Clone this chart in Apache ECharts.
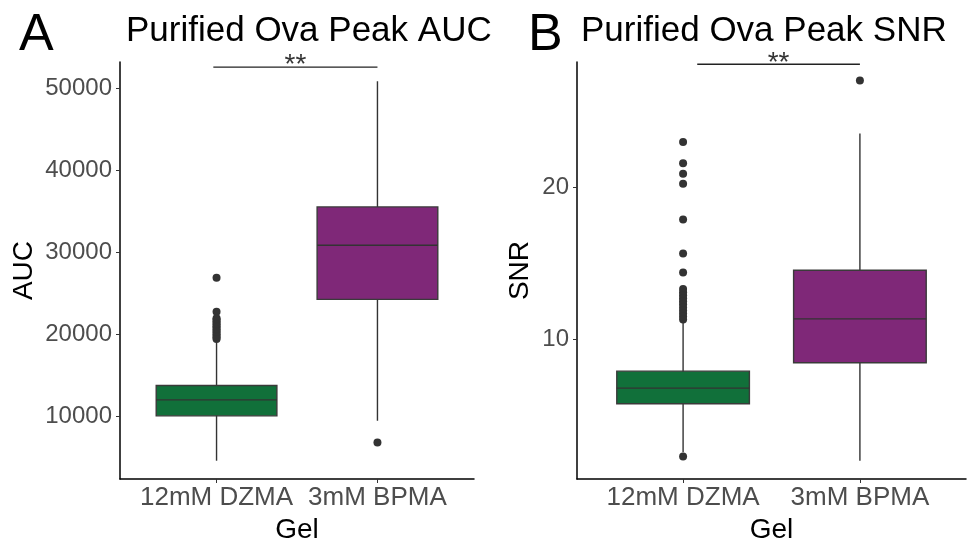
<!DOCTYPE html>
<html>
<head>
<meta charset="utf-8">
<script src="https://cdn.jsdelivr.net/npm/echarts@6/dist/echarts.min.js"></script>
<style>
html, body { margin: 0; padding: 0; background: #fff; }
#chart { width: 967px; height: 539px; }
</style>
</head>
<body>
<div id="chart"></div>
<script>
const groups = ["12mM DZMA", "3mM BPMA"];
const boxColors = ["#11703a", "#7f2878"];

// [lower whisker, Q1, median, Q3, upper whisker]
const aucBoxes = [
	[4620, 10080, 12030, 13770, 19300],
	[9480, 24260, 30860, 35520, 50830],
];
const aucOutliersDZMA = [26900, 22770, 21950, 21800, 21600, 21400, 21200, 21000, 20800, 20600, 20400, 20200, 20000, 19800, 19600, 19450];
const aucOutliersBPMA = [6840];
const aucTicks = [10000, 20000, 30000, 40000, 50000];
const aucSig = [0.98, 2.0, 52530];

const snrBoxes = [
	[2.6, 5.78, 6.81, 7.92, 11.1],
	[2.04, 8.47, 11.35, 14.54, 23.5],
];
const snrOutliersDZMA = [22.95, 21.55, 20.87, 20.2, 17.86, 15.64, 14.39, 13.3, 13.1, 12.9, 12.7, 12.5, 12.3, 12.1, 11.9, 11.7, 11.5, 11.3, 2.33];
const snrOutliersBPMA = [26.97];
const snrTicks = [10, 20];
const snrSig = [1.08, 2.0, 28.04];

const FONT = "Liberation Sans, Arial, sans-serif";
const boxWidth = 0.75;

function renderBox(params, api) {
	const x = api.value(0);
	const lo = api.coord([x, api.value(1)]);
	const q1 = api.coord([x, api.value(2)]);
	const med = api.coord([x, api.value(3)]);
	const q3 = api.coord([x, api.value(4)]);
	const hi = api.coord([x, api.value(5)]);
	const w = api.size([boxWidth, 0])[0];
	const stroke = { stroke: "#333333", lineWidth: 1.4 };
	return {
		type: "group",
		children: [
			{ type: "line", shape: { x1: lo[0], y1: lo[1], x2: hi[0], y2: hi[1] }, style: stroke },
			{
				type: "rect",
				shape: { x: q3[0] - w / 2, y: q3[1], width: w, height: q1[1] - q3[1] },
				style: { fill: boxColors[params.dataIndex], stroke: "#3a3a3a", lineWidth: 1.4 },
			},
			{ type: "line", shape: { x1: med[0] - w / 2, y1: med[1], x2: med[0] + w / 2, y2: med[1] }, style: stroke },
		],
	};
}

function xAxis(gridIndex) {
	return {
		type: "value",
		gridIndex: gridIndex,
		min: 0.4,
		max: 2.6,
		name: "Gel",
		nameLocation: "middle",
		nameGap: 31,
		nameTextStyle: { fontFamily: FONT, fontSize: 28, color: "#000" },
		axisLine: { lineStyle: { color: "#000", width: 1.5 } },
		axisTick: { customValues: [1, 2], length: 4, lineStyle: { color: "#333" } },
		axisLabel: {
			customValues: [1, 2],
			formatter: (v) => groups[Math.round(v) - 1],
			fontFamily: FONT,
			fontSize: 26,
			color: "#4d4d4d",
			margin: 6,
		},
		splitLine: { show: false },
	};
}

function yAxis(gridIndex, name, min, max, ticks, gap) {
	return {
		type: "value",
		gridIndex: gridIndex,
		min: min,
		max: max,
		name: name,
		nameLocation: "middle",
		nameGap: gap,
		nameTextStyle: { fontFamily: FONT, fontSize: 28, color: "#000" },
		axisLine: { show: true, lineStyle: { color: "#000", width: 1.5 } },
		axisTick: { show: true, customValues: ticks, length: 4, lineStyle: { color: "#333" } },
		axisLabel: {
			customValues: ticks,
			formatter: (v) => String(v),
			fontFamily: FONT,
			fontSize: 24,
			color: "#4d4d4d",
			margin: 8,
		},
		splitLine: { show: false },
	};
}

function panelSeries(idx, boxes, outA, outB, sig) {
	const outliers = outA.map((v) => [1, v]).concat(outB.map((v) => [2, v]));
	return [
		{
			type: "custom",
			xAxisIndex: idx,
			yAxisIndex: idx,
			renderItem: renderBox,
			encode: { x: 0, y: [1, 2, 3, 4, 5] },
			data: boxes.map((b, i) => [i + 1].concat(b)),
			z: 2,
		},
		{
			type: "scatter",
			xAxisIndex: idx,
			yAxisIndex: idx,
			symbolSize: 8,
			itemStyle: { color: "#333333", opacity: 1 },
			data: outliers,
			z: 3,
		},
		{
			type: "line",
			xAxisIndex: idx,
			yAxisIndex: idx,
			symbol: "none",
			lineStyle: { color: "#222222", width: 1.4 },
			data: [[sig[0], sig[2]], [sig[1], sig[2]]],
			silent: true,
		},
		{
			type: "scatter",
			xAxisIndex: idx,
			yAxisIndex: idx,
			symbol: "circle",
			symbolSize: 1,
			itemStyle: { color: "rgba(0,0,0,0)" },
			label: {
				show: true,
				formatter: "**",
				position: "top",
				distance: -13,
				fontFamily: FONT,
				fontSize: 28,
				color: "#000",
			},
			data: [[(sig[0] + sig[1]) / 2, sig[2]]],
			silent: true,
			z: 4,
		},
	];
}

const chart = echarts.init(document.getElementById("chart"));

const option = {
	animation: false,
	backgroundColor: "#fff",
	title: [
		{ text: "A", left: 14, top: 5, textStyle: { fontFamily: FONT, fontSize: 52, fontWeight: "normal", color: "#000" } },
		{ text: "Purified Ova Peak AUC", left: 121, top: 9, textStyle: { fontFamily: FONT, fontSize: 35, fontWeight: "normal", color: "#000" } },
		{ text: "B", left: 523, top: 5, textStyle: { fontFamily: FONT, fontSize: 52, fontWeight: "normal", color: "#000" } },
		{ text: "Purified Ova Peak SNR", left: 576, top: 9, textStyle: { fontFamily: FONT, fontSize: 35, fontWeight: "normal", color: "#000" } },
	],
	grid: [
		{ left: 120, right: 493, top: 62, bottom: 60, outerBoundsMode: "none" },
		{ left: 577, right: 1, top: 62, bottom: 60, outerBoundsMode: "none" },
	],
	xAxis: [xAxis(0), xAxis(1)],
	yAxis: [
		yAxis(0, "AUC", 2394, 53160, aucTicks, 82),
		yAxis(1, "SNR", 0.85, 28.19, snrTicks, 43),
	],
	series: [].concat(
		panelSeries(0, aucBoxes, aucOutliersDZMA, aucOutliersBPMA, aucSig),
		panelSeries(1, snrBoxes, snrOutliersDZMA, snrOutliersBPMA, snrSig)
	),
};

chart.setOption(option);
</script>
</body>
</html>
